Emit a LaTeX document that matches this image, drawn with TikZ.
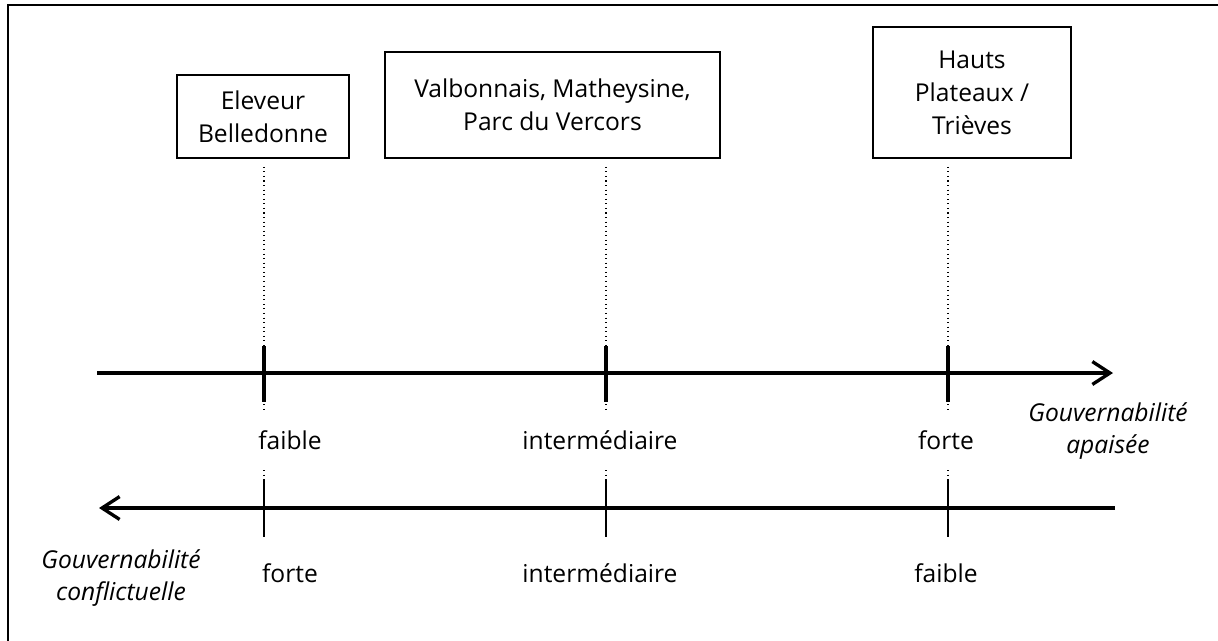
\documentclass[tikz,border=0pt]{standalone}
\usepackage{fontspec}
\setmainfont{Open Sans}
\usetikzlibrary{arrows.meta}

\begin{document}
\begin{tikzpicture}[x=0.02cm,y=-0.02cm,
  box/.style={draw,line width=0.9pt,align=center,inner sep=0pt,
    font=\fontsize{14}{18.7}\selectfont},
  lab/.style={inner sep=0pt,anchor=base,font=\fontsize{14}{18.7}\selectfont},
  axislab/.style={inner sep=0pt,align=center,font=\fontsize{14}{18.7}\selectfont\itshape},
  axis/.style={line width=1.9pt},
  guide/.style={dotted,line width=0.6pt}]
% Parameters
\def\topAxis{373}
\def\botAxis{508}
\def\tipSize{Straight Barb[length=10pt,width=13pt]}

\useasboundingbox (0,0) rectangle (1218,640);

% Frame
\draw[line width=1.1pt] (8,5) rectangle (1240,660);

% Boxes
\node[box,minimum width=3.44cm,minimum height=1.66cm] (eleveur) at (263,116.5) {Eleveur\\Belledonne};
\node[box,minimum width=6.7cm,minimum height=2.12cm] (valbonnais) at (552.5,105) {Valbonnais, Matheysine,\\Parc du Vercors};
\node[box,minimum width=3.96cm,minimum height=2.62cm] (plateaux) at (972,92.5) {Hauts\\Plateaux /\\Trièves};

% Tick positions
\coordinate (lowTop) at (264,\topAxis);
\coordinate (midTop) at (606,\topAxis);
\coordinate (highTop) at (948,\topAxis);
\coordinate (lowBot) at (264,\botAxis);
\coordinate (midBot) at (606,\botAxis);
\coordinate (highBot) at (948,\botAxis);

% Axes
\coordinate (topStart) at (97,\topAxis);
\coordinate (topEnd) at (1113,\topAxis);
\coordinate (botStart) at (1115,\botAxis);
\coordinate (botEnd) at (99,\botAxis);
\draw[axis,-{\tipSize}] (topStart) -- (topEnd);
\draw[axis,-{\tipSize}] (botStart) -- (botEnd);

% Guide lines and ticks
\foreach \b/\t/\u in {eleveur/lowTop/lowBot,valbonnais/midTop/midBot,plateaux/highTop/highBot}{
  \draw[guide] ([yshift=-0.16cm]\b.south -| \t) -- ([yshift=-0.74cm]\t);
  \draw[guide] ([yshift=0.76cm]\u) -- ([yshift=-0.6cm]\u);
  \draw[axis] ([yshift=0.54cm]\t) -- ([yshift=-0.58cm]\t);
  \draw[line width=0.7pt] ([yshift=0.58cm]\u) -- ([yshift=-0.58cm]\u);
}

% Levels
\node[lab] (faibleTop) at (290,449) {faible};
\node[lab] (interTop) at (600,449) {intermédiaire};
\node[lab] (forteTop) at (946,449) {forte};
\node[lab] (forteBot) at (290,582) {forte};
\node[lab] (interBot) at (600,582) {intermédiaire};
\node[lab] (faibleBot) at (946,582) {faible};

% Axis names
\node[axislab] (apaisee) at (1108,431) {Gouvernabilité\\apaisée};
\node[axislab] (conflit) at (121,578) {Gouvernabilité\\conflictuelle};

\end{tikzpicture}
\end{document}
